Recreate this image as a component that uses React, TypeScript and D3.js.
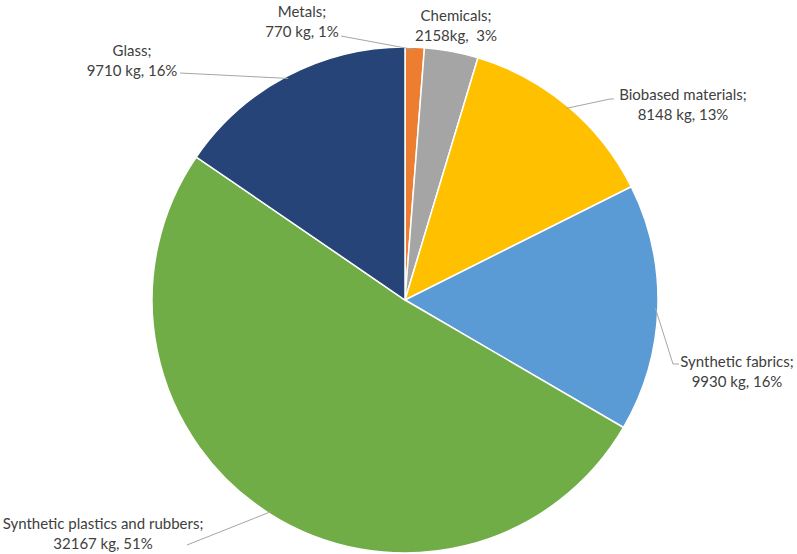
import React from "react";
import * as d3 from "d3";

const categories = ["Metals", "Chemicals", "Biobased materials", "Synthetic fabrics", "Synthetic plastics and rubbers", "Glass"];
const values = [770, 2158, 8148, 9930, 32167, 9710];
const labelLines = [
  ["Metals;", "770 kg, 1%"],
  ["Chemicals;", "2158kg,  3%"],
  ["Biobased materials;", "8148 kg, 13%"],
  ["Synthetic fabrics;", "9930 kg, 16%"],
  ["Synthetic plastics and rubbers;", "32167 kg, 51%"],
  ["Glass;", "9710 kg, 16%"],
];
const colors = ["#ED7D31", "#A5A5A5", "#FFC000", "#5B9BD5", "#70AD47", "#264478"];

// where each label block sits, and where its leader line bends / ends
const labelPos = [
  { x: 302, y: 12, lx: 341, ly: 36, bx: null, by: null },
  { x: 456, y: 16, lx: null, ly: null, bx: null, by: null },
  { x: 683, y: 95, lx: 614, ly: 99, bx: 610, by: 99 },
  { x: 737, y: 362, lx: 679, ly: 364, bx: 673, by: 364 },
  { x: 103, y: 524, lx: 187, ly: 545, bx: null, by: null },
  { x: 132, y: 51, lx: 180, ly: 73, bx: null, by: null },
];

const W = 797, H = 554;
const cx = 405, cy = 300, radius = 253;

export default function App() {
  const pie = d3.pie<number>().sort(null).value(d => d);
  const arcs = pie(values);
  const arcGen = d3.arc<d3.PieArcDatum<number>>().innerRadius(0).outerRadius(radius);

  return (
    <svg width={W} height={H} style={{ position: "absolute", left: 0, top: 0, background: "#fff" }}
      fontFamily="Lato, 'Open Sans', sans-serif">
      <g transform={"translate(" + cx + "," + cy + ")"}>
        {arcs.map((a, i) => (
          <path key={categories[i]} d={arcGen(a) || ""} fill={colors[i]} stroke="#fff" strokeWidth={1.5} />
        ))}
      </g>
      {arcs.map((a, i) => {
        const p = labelPos[i];
        if (p.lx == null) return null;
        const mid = (a.startAngle + a.endAngle) / 2;
        const ex = cx + Math.sin(mid) * radius * 0.99;
        const ey = cy - Math.cos(mid) * radius * 0.99;
        let pts = [[ex, ey]];
        if (p.bx != null) pts.push([p.bx, p.by]);
        pts.push([p.lx, p.ly]);
        return (
          <polyline key={"l" + i} points={pts.map(q => q.join(",")).join(" ")}
            fill="none" stroke="#A6A6A6" strokeWidth={1} />
        );
      })}
      {labelLines.map((ls, i) => (
        <text key={"t" + i} x={labelPos[i].x} y={labelPos[i].y} textAnchor="middle"
          fontSize={15} fill="#404040">
          {ls.map((s, j) => (
            <tspan key={j} x={labelPos[i].x} dy={j === 0 ? 5 : 19.5} xmlSpace="preserve">{s}</tspan>
          ))}
        </text>
      ))}
    </svg>
  );
}
